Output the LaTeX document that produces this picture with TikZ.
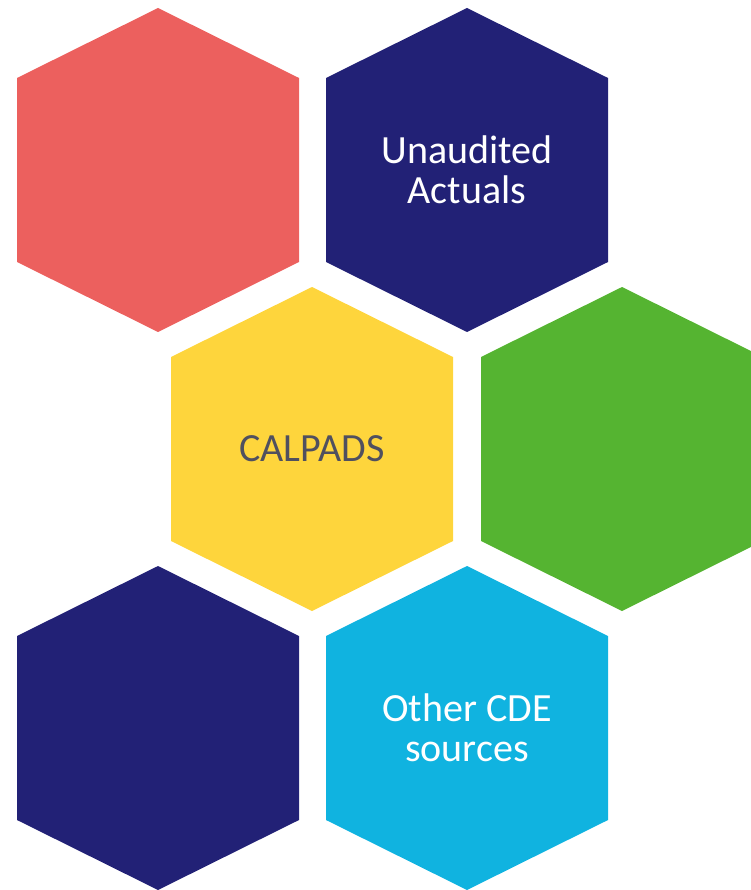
\documentclass[tikz,border=0pt]{standalone}
\usepackage{fontspec}
\setmainfont{Carlito}
\usepackage{xcolor}
\usepackage{tikz}
\usetikzlibrary{positioning}

\definecolor{hexred}{HTML}{EC605E}
\definecolor{hexnavy}{HTML}{222176}
\definecolor{hexyellow}{HTML}{FED53C}
\definecolor{hexgreen}{HTML}{55B431}
\definecolor{hexcyan}{HTML}{10B3E0}
\definecolor{labelgray}{HTML}{50505F}

\begin{document}
\begin{tikzpicture}[x=1pt, y=-1pt,
        hexlabel/.style={align=center, font=\fontsize{40}{40}\selectfont, inner sep=0pt}]
        \useasboundingbox (0,0) rectangle (751,890);
        \clip (0,0) rectangle (751,890);

        % honeycomb cells: name/center x/center y/colour
        \foreach \name/\cx/\cy/\col in {cellA/158/170/hexred, cellB/467/170/hexnavy,
                cellC/312/449/hexyellow, cellD/622/449/hexgreen,
                cellE/158/728/hexnavy, cellF/467/728/hexcyan} {
            \fill[\col] (\cx,\cy) ++(0,-162) -- ++(141,70) -- ++(0,184) -- ++(-141,70)
                -- ++(-141,-70) -- ++(0,-184) -- cycle;
            \coordinate (\name) at (\cx,\cy);
        }

        \node[hexlabel, text=white] (actuals) at (cellB) {Unaudited\\Actuals};
        \node[hexlabel, text=labelgray] (calpads) at (cellC) {CALPADS};
        \node[hexlabel, text=white] (other) at (cellF) {Other CDE\\sources};
    \end{tikzpicture}
\end{document}
